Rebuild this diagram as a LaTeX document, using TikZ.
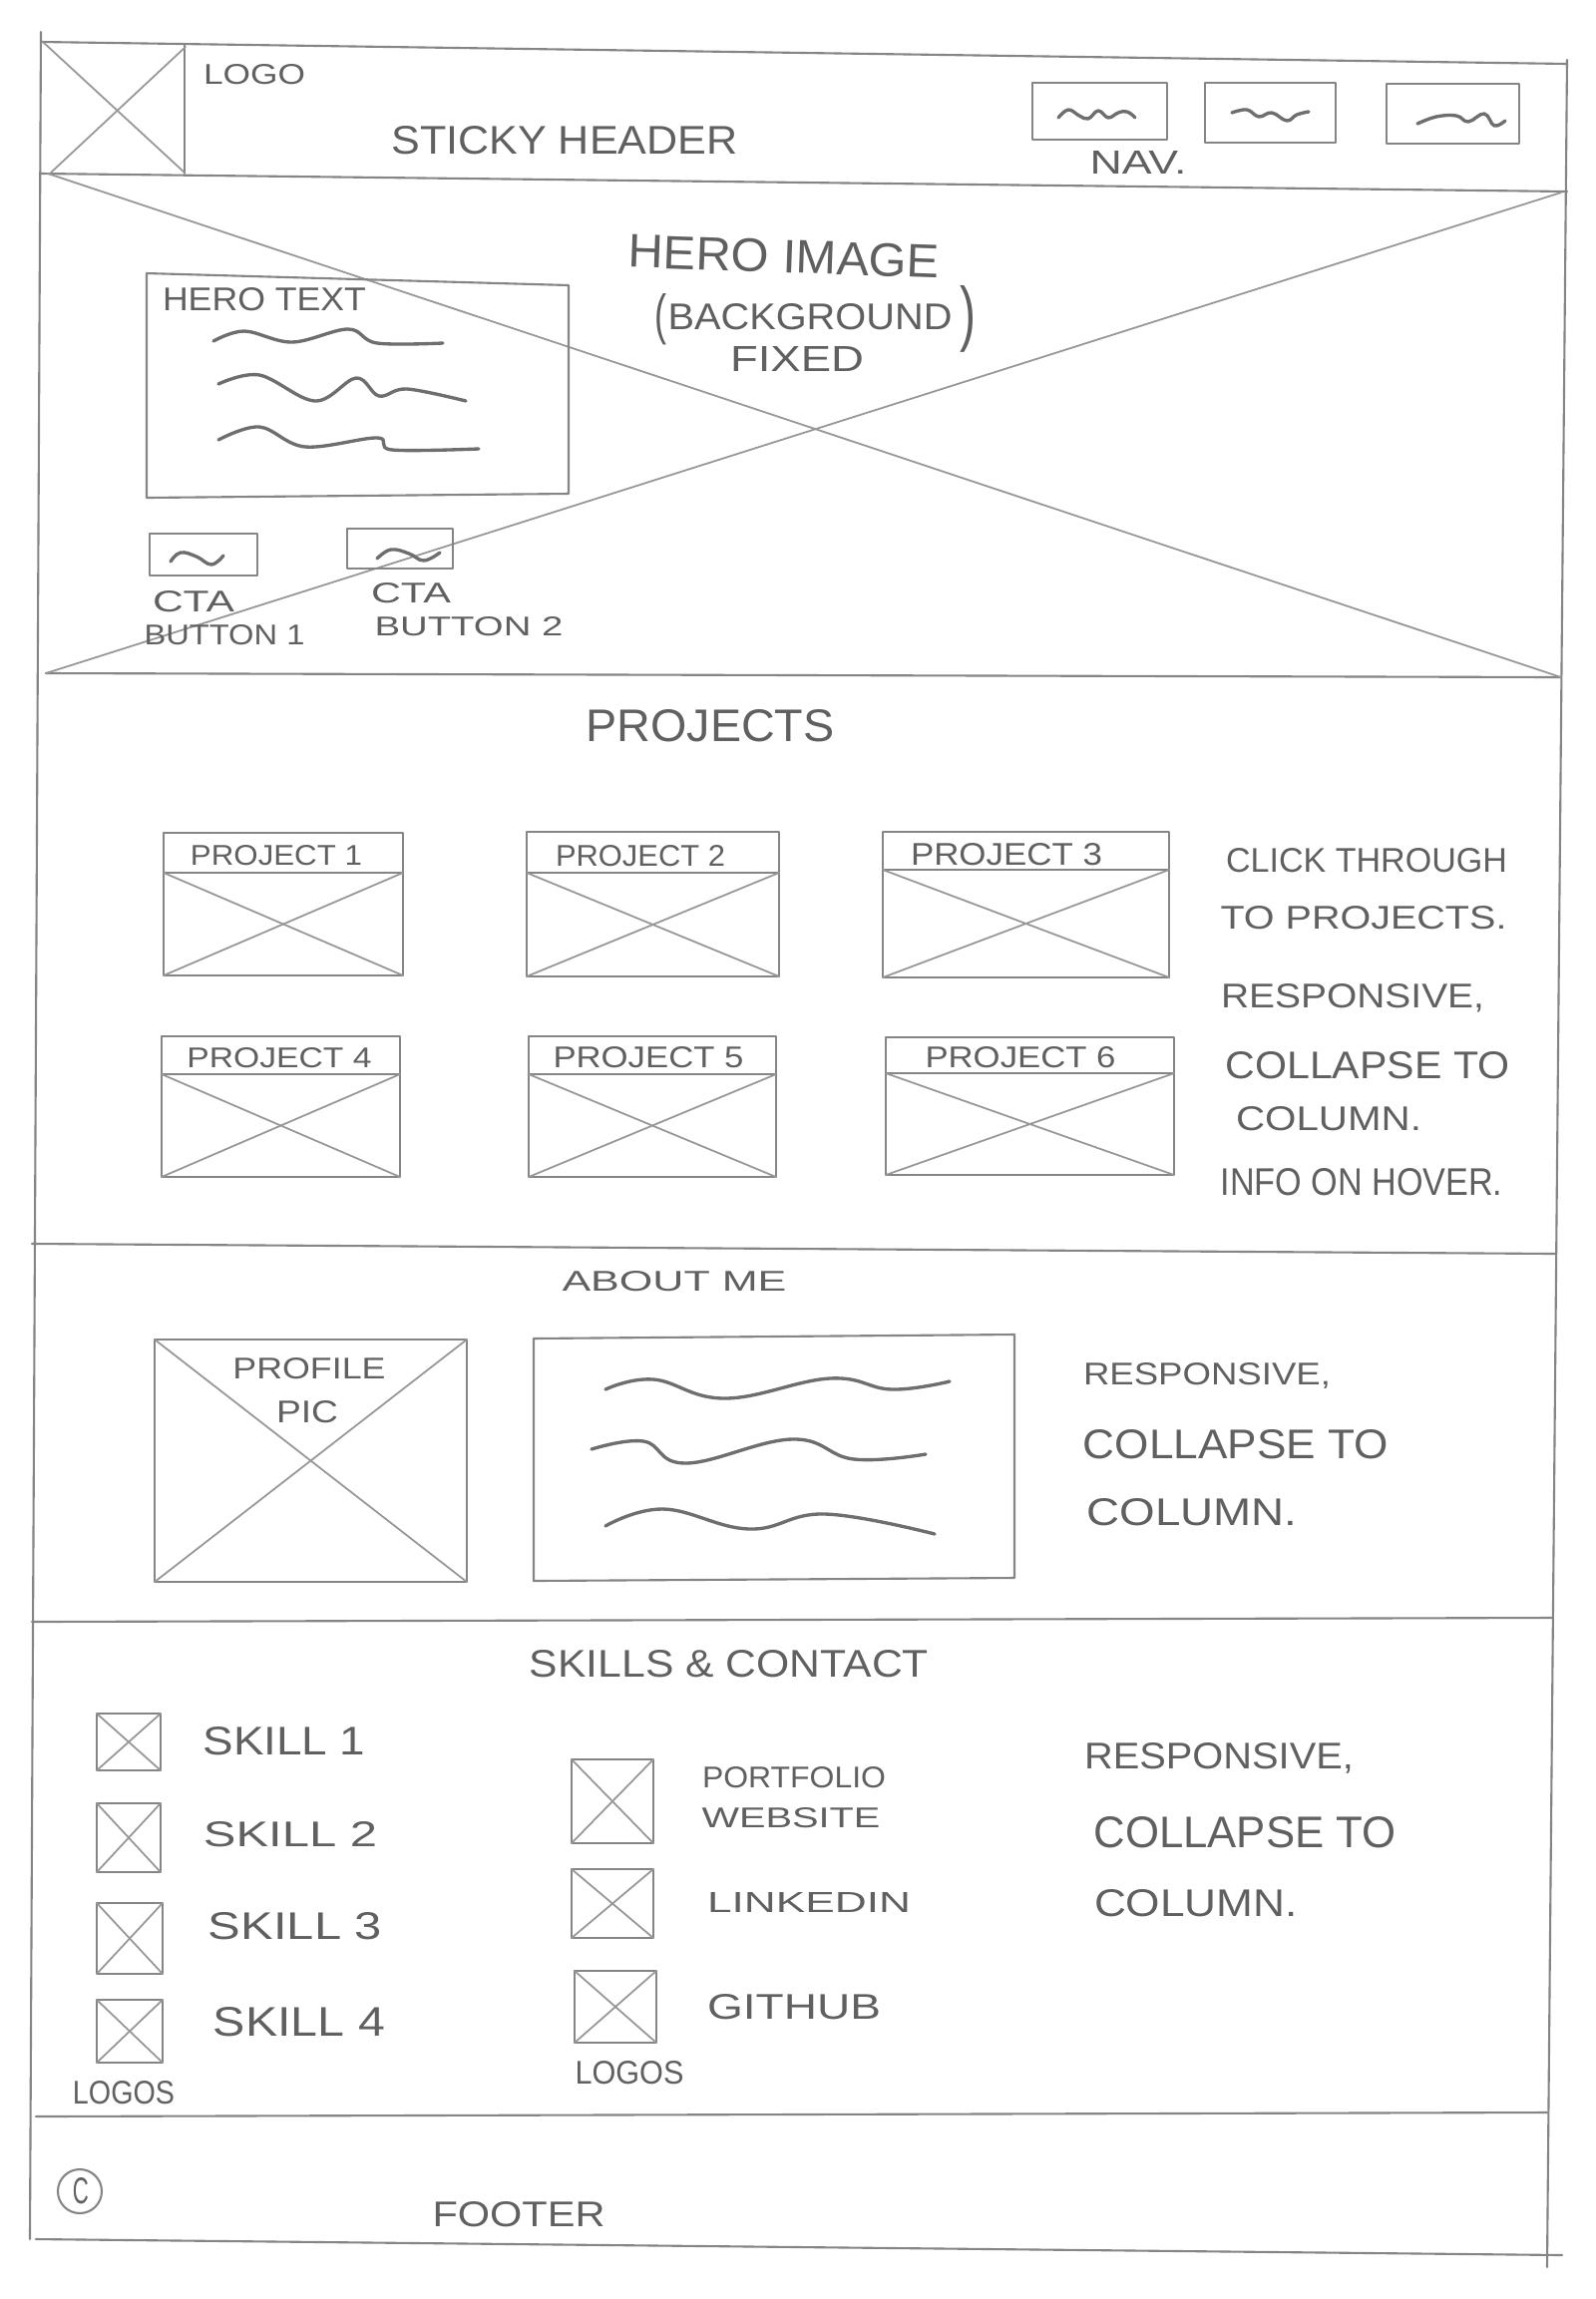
\documentclass[tikz,border=0pt]{standalone}
\usepackage{fontspec}
\setmainfont{Liberation Sans}
\usepackage{graphicx}
\newlength\pxu
\setlength\pxu{0.01cm}
\newcommand\hand[3]{\resizebox{#1\pxu}{#2\pxu}{#3}}
\definecolor{pencil}{HTML}{858585}
\definecolor{lead}{HTML}{606060}
\definecolor{wavecol}{HTML}{6E6E6E}
\begin{document}
\begin{tikzpicture}[x=0.01cm,y=-0.01cm,line join=round,line cap=round,
  pen/.style={draw=pencil,line width=0.6pt},
  soft/.style={draw=pencil!85,line width=0.5pt},
  wave/.style={draw=wavecol,line width=0.95pt},
  lbl/.style={inner sep=0pt,text=lead}]
\useasboundingbox[fill=white] (0,0) rectangle (1600,2305);

% ---------- outer frame and section lines ----------
\draw[pen] (41,32) -- (30,2245);
\draw[pen] (1571,60) -- (1551,2273);
\draw[pen] (41,42) -- (1571,64);
\draw[pen] (41,174) -- (1571,192);
\draw[pen] (46,675) -- (1565,679);
\draw[pen] (32,1247) -- (1559,1257);
\draw[pen] (32,1626) -- (1556,1622);
\draw[pen] (36,2122) -- (1551,2118);
\draw[pen] (36,2245) -- (1566,2261);

% ---------- header ----------
\draw[pen] (185,44) -- (185,174);
\draw[soft] (43,42) -- (185,173);
\draw[soft] (51,173) -- (186,47);
\node[lbl] (tLogo) at (255,75) {\hand{102}{20}{LOGO}};
\node[lbl] (tSticky) at (566,141) {\hand{347}{28}{STICKY HEADER}};
\draw[pen] (1035,83) rectangle (1170,140);
\draw[pen] (1208,83) rectangle (1339,143);
\draw[pen] (1390,84) rectangle (1523,144);
\draw[wave] plot[smooth,tension=0.7] coordinates {(1061,118) (1071,110) (1082,116) (1091,119) (1101,111) (1111,118) (1121,113) (1130,112) (1138,118)};
\draw[wave] plot[smooth,tension=0.7] coordinates {(1235,113) (1250,110) (1262,117) (1275,113) (1290,121) (1300,115) (1312,112)};
\draw[wave] plot[smooth,tension=0.7] coordinates {(1421,124) (1440,117) (1460,116) (1472,122) (1488,114) (1498,126) (1509,121)};
\node[lbl] (tNav) at (1141,163) {\hand{97}{23}{NAV.}};

% ---------- hero ----------
\draw[soft] (48,174) -- (1565,679);
\draw[soft] (46,675) -- (1565,193);
\draw[pen] (147,274) -- (570,286) -- (570,495) -- (147,499) -- cycle;
\node[lbl] (tHeroText) at (265,300) {\hand{204}{23}{HERO TEXT}};
\draw[wave] plot[smooth,tension=0.6] coordinates {(214,342) (245,332) (293,343) (349,330) (378,344) (444,344)};
\draw[wave] plot[smooth,tension=0.6] coordinates {(219,385) (260,376) (316,402) (357,379) (380,397) (408,390) (467,402)};
\draw[wave] plot[smooth,tension=0.6] coordinates {(219,441) (260,428) (306,448) (378,439) (393,451) (480,450)};
\node[lbl,rotate=-2] (tHeroImg) at (786,257) {\hand{312}{33}{HERO IMAGE}};
\node[lbl] (tParL) at (662,320) {\hand{12}{40}{(}};
\node[lbl] (tBackground) at (812,318) {\hand{285}{26}{BACKGROUND}};
\node[lbl] (tParR) at (970,320) {\hand{16}{52}{)}};
\node[lbl] (tFixed) at (799,360) {\hand{134}{25}{FIXED}};
\draw[pen] (150,535) rectangle (258,577);
\draw[pen] (348,530) rectangle (454,570);
\draw[wave] plot[smooth,tension=0.7] coordinates {(171,563) (181,554) (197,558) (212,566) (224,557)};
\draw[wave] plot[smooth,tension=0.7] coordinates {(378,560) (392,551) (410,555) (425,562) (441,554)};
\node[lbl] (tCta1) at (194,603) {\hand{82}{21}{CTA}};
\node[lbl] (tBtn1) at (225,637) {\hand{161}{20}{BUTTON 1}};
\node[lbl] (tCta2) at (412,595) {\hand{80}{20}{CTA}};
\node[lbl] (tBtn2) at (470,628) {\hand{189}{19}{BUTTON 2}};

% ---------- projects ----------
\node[lbl] (tProjects) at (712,728) {\hand{249}{32}{PROJECTS}};
\foreach \l/\r/\t/\h/\b in {164/404/835/875/978, 528/781/834/875/979, 885/1172/834/872/980,
                            162/401/1039/1077/1180, 530/778/1039/1077/1180, 888/1177/1040/1076/1178}{
  \draw[pen] (\l,\t) rectangle (\r,\b);
  \draw[pen] (\l,\h) -- (\r,\h);
  \draw[soft] (\l,\h) -- (\r,\b);
  \draw[soft] (\l,\b) -- (\r,\h);
}
\node[lbl] (tP1) at (277,858) {\hand{172}{20}{PROJECT 1}};
\node[lbl] (tP2) at (642,858) {\hand{170}{21}{PROJECT 2}};
\node[lbl] (tP3) at (1009,857) {\hand{192}{22}{PROJECT 3}};
\node[lbl] (tP4) at (280,1061) {\hand{185}{20}{PROJECT 4}};
\node[lbl] (tP5) at (650,1060) {\hand{191}{21}{PROJECT 5}};
\node[lbl] (tP6) at (1023,1060) {\hand{191}{21}{PROJECT 6}};
\node[lbl] (tClick) at (1370,863) {\hand{282}{24}{CLICK THROUGH}};
\node[lbl] (tToProj) at (1367,920) {\hand{287}{23}{TO PROJECTS.}};
\node[lbl] (tResp1) at (1356,1001) {\hand{264}{24}{RESPONSIVE,}};
\node[lbl] (tColl1) at (1371,1068) {\hand{285}{27}{COLLAPSE TO}};
\node[lbl] (tCol1) at (1332,1122) {\hand{186}{24}{COLUMN.}};
\node[lbl] (tInfo) at (1365,1185) {\hand{283}{27}{INFO ON HOVER.}};

% ---------- about me ----------
\node[lbl] (tAbout) at (676,1285) {\hand{225}{20}{ABOUT ME}};
\draw[pen] (155,1343) rectangle (468,1586);
\draw[soft] (155,1343) -- (468,1586);
\draw[soft] (155,1586) -- (468,1343);
\node[lbl] (tProfile) at (310,1372) {\hand{153}{21}{PROFILE}};
\node[lbl] (tPic) at (308,1416) {\hand{62}{22}{PIC}};
\draw[pen] (535,1342) -- (1017,1338) -- (1017,1582) -- (535,1585) -- cycle;
\draw[wave] plot[smooth,tension=0.7] coordinates {(607,1393) (655,1383) (727,1402) (832,1382) (894,1393) (952,1385)};
\draw[wave] plot[smooth,tension=0.7] coordinates {(593,1453) (645,1445) (688,1467) (794,1443) (856,1463) (928,1458)};
\draw[wave] plot[smooth,tension=0.7] coordinates {(607,1530) (665,1513) (751,1533) (827,1518) (937,1538)};
\node[lbl] (tResp2) at (1210,1379) {\hand{248}{22}{RESPONSIVE,}};
\node[lbl] (tColl2) at (1239,1448) {\hand{306}{29}{COLLAPSE TO}};
\node[lbl] (tCol2) at (1195,1516) {\hand{211}{27}{COLUMN.}};

% ---------- skills & contact ----------
\node[lbl] (tSkills) at (731,1668) {\hand{400}{27}{SKILLS \& CONTACT}};
\foreach \l/\t/\r/\b in {97/1718/161/1775, 97/1808/161/1877, 97/1908/163/1979, 97/2005/163/2068,
                        573/1764/655/1848, 573/1874/655/1943, 576/1976/658/2048}{
  \draw[pen] (\l,\t) rectangle (\r,\b);
  \draw[soft] (\l,\t) -- (\r,\b);
  \draw[soft] (\l,\b) -- (\r,\t);
}
\node[lbl] (tS1) at (285,1746) {\hand{163}{28}{SKILL 1}};
\node[lbl] (tS2) at (291,1839) {\hand{174}{25}{SKILL 2}};
\node[lbl] (tS3) at (296,1931) {\hand{174}{27}{SKILL 3}};
\node[lbl] (tS4) at (300,2027) {\hand{172}{29}{SKILL 4}};
\node[lbl] (tLogos1) at (124,2098) {\hand{102}{23}{LOGOS}};
\node[lbl] (tPortfolio) at (796,1782) {\hand{184}{21}{PORTFOLIO}};
\node[lbl] (tWebsite) at (793,1823) {\hand{179}{20}{WEBSITE}};
\node[lbl] (tLinkedin) at (811,1907) {\hand{204}{20}{LINKEDIN}};
\node[lbl] (tGithub) at (796,2012) {\hand{174}{25}{GITHUB}};
\node[lbl] (tLogos2) at (631,2078) {\hand{109}{23}{LOGOS}};
\node[lbl] (tResp3) at (1222,1763) {\hand{270}{26}{RESPONSIVE,}};
\node[lbl] (tColl3) at (1248,1837) {\hand{303}{31}{COLLAPSE TO}};
\node[lbl] (tCol3) at (1199,1908) {\hand{204}{27}{COLUMN.}};

% ---------- footer ----------
\draw[pen] (80,2197) circle[radius=22];
\node[lbl] (tCopy) at (81,2197) {\hand{16}{26}{C}};
\node[lbl] (tFooter) at (520,2220) {\hand{173}{25}{FOOTER}};
\end{tikzpicture}
\end{document}
